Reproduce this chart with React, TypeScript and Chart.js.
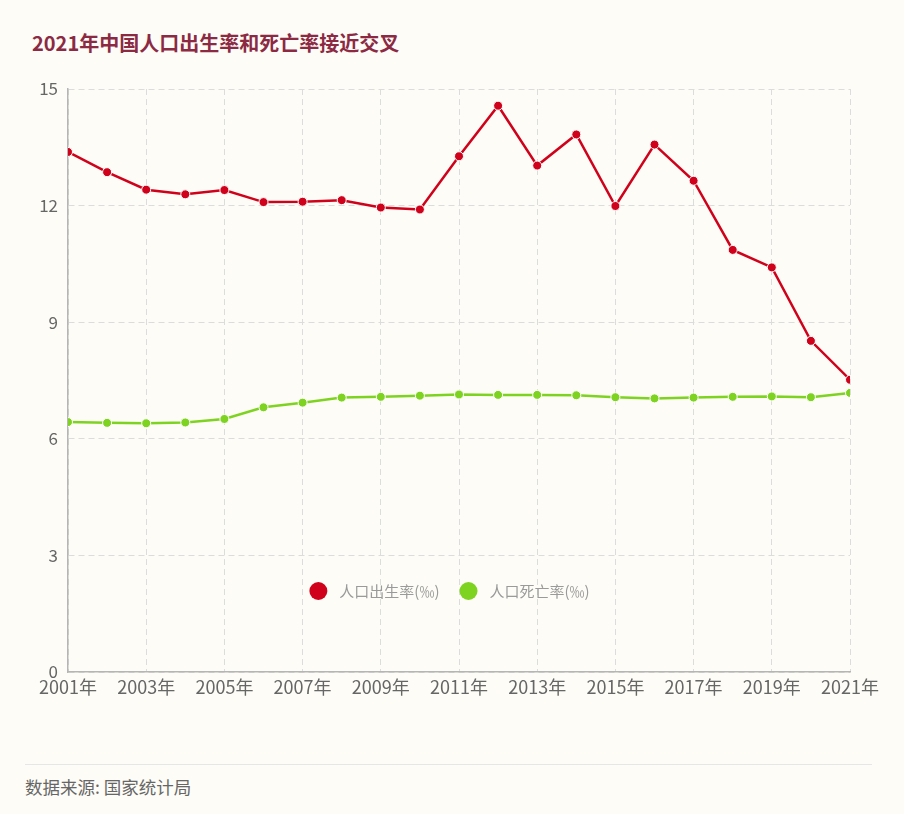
import React, { useEffect, useRef } from "react";
import { Chart, registerables } from "chart.js";

Chart.register(...registerables);

const years = [2001, 2002, 2003, 2004, 2005, 2006, 2007, 2008, 2009, 2010, 2011, 2012, 2013, 2014, 2015, 2016, 2017, 2018, 2019, 2020, 2021];
const birthRate = [13.38, 12.86, 12.41, 12.29, 12.4, 12.09, 12.1, 12.14, 11.95, 11.9, 13.27, 14.57, 13.03, 13.83, 11.99, 13.57, 12.64, 10.86, 10.41, 8.52, 7.52];
const deathRate = [6.43, 6.41, 6.4, 6.42, 6.51, 6.81, 6.93, 7.06, 7.08, 7.11, 7.14, 7.13, 7.13, 7.12, 7.07, 7.04, 7.06, 7.08, 7.09, 7.07, 7.18];
const seriesNames = ["人口出生率(‰)", "人口死亡率(‰)"];
const yTicks = [0, 3, 6, 9, 12, 15];

const FONT = "'Noto Sans CJK SC', 'Noto Sans', sans-serif";
const RED = "#d0021b";
const GREEN = "#7ed321";

const legendPlugin = {
  id: "innerLegend",
  afterDraw(chart: any) {
    const ctx = chart.ctx;
    const sets = chart.data.datasets;
    ctx.save();
    ctx.font = `15px ${FONT}`;
    const r = 9;
    const gapIcon = 12;
    const gapItem = 20;
    const widths = sets.map((d: any) => ctx.measureText(d.label).width);
    let total = 0;
    widths.forEach((w: number, i: number) => {
      total += r * 2 + gapIcon + w + (i < widths.length - 1 ? gapItem : 0);
    });
    let x = 449.5 - total / 2;
    const y = chart.chartArea.bottom - 81;
    sets.forEach((d: any, i: number) => {
      ctx.beginPath();
      ctx.fillStyle = d.borderColor;
      ctx.arc(x + r, y, r, 0, Math.PI * 2);
      ctx.fill();
      ctx.fillStyle = "#9a9a9a";
      ctx.textBaseline = "middle";
      ctx.textAlign = "left";
      ctx.fillText(d.label, x + r * 2 + gapIcon, y);
      x += r * 2 + gapIcon + widths[i] + gapItem;
    });
    ctx.restore();
  },
};

export default function App() {
  const ref = useRef<HTMLCanvasElement | null>(null);

  useEffect(() => {
    document.body.style.margin = "0";
    document.body.style.background = "#fdfcf6";
    const canvas = ref.current;
    if (!canvas) return;
    const chart = new Chart(canvas, {
      type: "line",
      data: {
        datasets: [
          {
            label: seriesNames[0],
            data: years.map((y, i) => ({ x: y, y: birthRate[i] })),
            borderColor: RED,
            backgroundColor: RED,
            borderWidth: 2.5,
            pointRadius: 4.5,
            pointBorderColor: "#ffffff",
            pointBorderWidth: 1,
            pointBackgroundColor: RED,
            tension: 0,
          },
          {
            label: seriesNames[1],
            data: years.map((y, i) => ({ x: y, y: deathRate[i] })),
            borderColor: GREEN,
            backgroundColor: GREEN,
            borderWidth: 2.5,
            pointRadius: 4.5,
            pointBorderColor: "#ffffff",
            pointBorderWidth: 1,
            pointBackgroundColor: GREEN,
            tension: 0,
          },
        ],
      },
      options: {
        animation: false,
        responsive: false,
        maintainAspectRatio: false,
        layout: { padding: { top: 89, left: 0, right: 54, bottom: 8 } },
        plugins: {
          legend: { display: false },
          tooltip: { enabled: false },
          title: { display: false },
        },
        scales: {
          x: {
            type: "linear",
            min: years[0],
            max: years[years.length - 1],
            afterFit: (s: any) => {
              s.height = 40;
            },
            afterBuildTicks: (s: any) => {
              const t = [];
              for (let v = years[0]; v <= years[years.length - 1]; v += 2) t.push({ value: v });
              s.ticks = t;
            },
            ticks: {
              autoSkip: false,
              maxRotation: 0,
              padding: 4,
              color: "#666666",
              font: { family: FONT, size: 18 },
              callback: (v: any) => `${v}年`,
            },
            grid: {
              color: "#dcdcdc",
              lineWidth: 1,
              drawTicks: false,
            },
            border: { display: true, color: "#b5b5b5", width: 1.5, dash: [6, 4] },
          },
          y: {
            min: 0,
            max: 15,
            afterFit: (s: any) => {
              s.width = 68;
            },
            afterBuildTicks: (s: any) => {
              s.ticks = yTicks.map((v) => ({ value: v }));
            },
            ticks: {
              padding: 10,
              color: "#666666",
              font: { family: FONT, size: 17 },
            },
            grid: {
              color: "#dcdcdc",
              lineWidth: 1,
              drawTicks: false,
            },
            border: { display: true, color: "#b5b5b5", width: 1.5, dash: [6, 4] },
          },
        },
      },
      plugins: [legendPlugin],
    } as any);
    return () => chart.destroy();
  }, []);

  return (
    <div
      style={{
        position: "relative",
        width: 904,
        height: 814,
        background: "#fdfcf6",
        overflow: "hidden",
        fontFamily: FONT,
      }}
    >
      <div
        style={{
          position: "absolute",
          left: 32,
          top: 28,
          fontSize: 20,
          fontWeight: 700,
          color: "#8c2a44",
          whiteSpace: "nowrap",
        }}
      >
        2021年中国人口出生率和死亡率接近交叉
      </div>
      <canvas
        ref={ref}
        width={904}
        height={720}
        style={{ position: "absolute", left: 0, top: 0, width: 904, height: 720 }}
      />
      <div
        style={{
          position: "absolute",
          left: 25,
          top: 764,
          width: 847,
          height: 0,
          borderTop: "1.5px solid #e6e6e6",
        }}
      />
      <div
        style={{
          position: "absolute",
          left: 25,
          top: 774,
          fontSize: 17.5,
          color: "#666666",
          whiteSpace: "nowrap",
        }}
      >
        数据来源: 国家统计局
      </div>
    </div>
  );
}
